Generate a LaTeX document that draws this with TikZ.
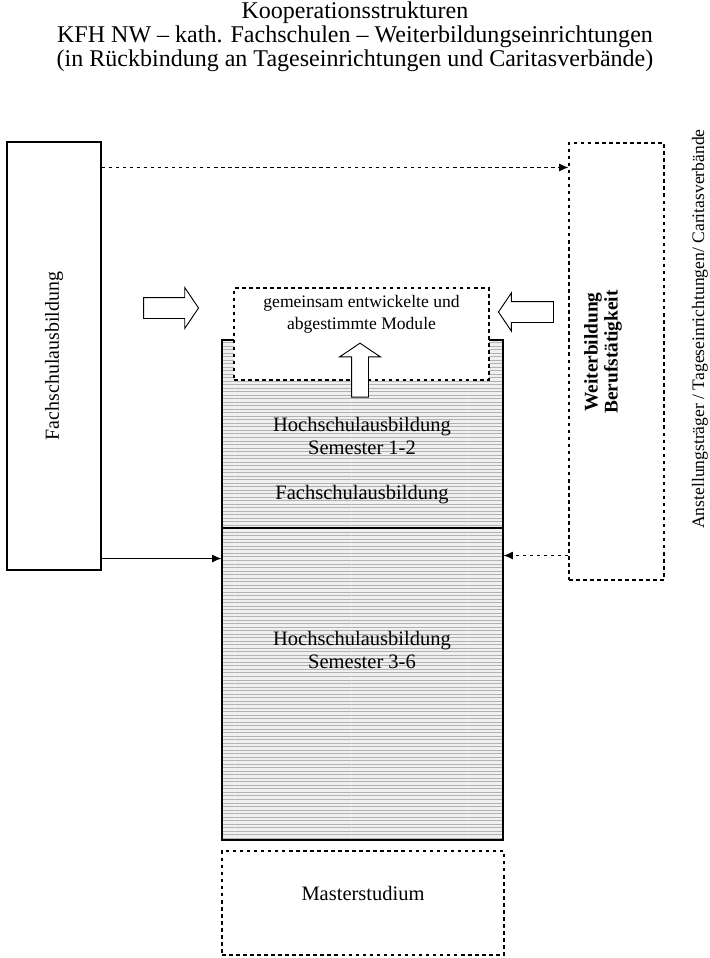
\documentclass[tikz,border=0pt]{standalone}
\usepackage{fontspec}
\setmainfont{Liberation Serif}
\usetikzlibrary{positioning,arrows,arrows.meta,patterns,shapes.arrows}

\begin{document}
\begin{tikzpicture}[x=0.03cm, y=-0.03cm,
  box/.style={draw, line width=0.9pt, inner sep=0pt},
  dbox/.style={box, dashed},
  hsbox/.style={draw, line width=0.9pt, preaction={fill=gray!12}, pattern=horizontal lines, pattern color=gray!60, minimum width=8.43cm},
  hollow/.style={single arrow, draw, line width=0.8pt, fill=white, inner xsep=0pt, inner ysep=0.3cm, single arrow head extend=0.3cm, single arrow tip angle=112, minimum height=1.65cm},
  con/.style={line width=1pt, -{Latex[length=2.8mm, width=2.4mm]}},
  txt/.style={font=\fontsize{17.5}{20}\selectfont, align=center}]
  \useasboundingbox (0,0) rectangle (710,958);

  % title
  \node[font=\fontsize{20.5}{20.5}\selectfont, align=center] (T) at (355,37) {Kooperationsstrukturen\\KFH NW – kath. Fachschulen – Weiterbildungseinrichtungen\\(in Rückbindung an Tageseinrichtungen und Caritasverbände)};

  % Hochschule
  \node[hsbox, minimum height=5.64cm] (HS1) at (362.5,434) {};
  \node[hsbox, minimum height=9.36cm] (HS2) at (362.5,684) {};
  \draw[line width=1.4pt] (HS1.south west) -- (HS1.south east);
  \node[txt] (HS1a) at (362,436) {Hochschulausbildung\\Semester 1-2};
  \node[txt] (HS1b) at (362,495) {Fachschulausbildung};
  \node[txt] (HS2a) at (362,650) {Hochschulausbildung\\Semester 3-6};

  % Module
  \node[dbox, fill=white, minimum width=7.65cm, minimum height=2.76cm] (MOD) at (361.5,334) {};
  \node[font=\fontsize{15}{18.7}\selectfont, align=center, below=0.12cm of MOD.north] (MODt) {gemeinsam entwickelte und\\abgestimmte Module};
  \node[hollow, rotate=90, inner ysep=0.24cm, single arrow head extend=0.36cm, minimum height=1.62cm] (UP) at (360,373) {};

  % Fachschule / Weiterbildung
  \node[box, minimum width=2.82cm, minimum height=12.84cm] (FS) at (54,356) {};
  \node[rotate=90, font=\fontsize{17}{20}\selectfont] (FSt) at (FS) {Fachschulausbildung};
  \node[dbox, minimum width=2.85cm, minimum height=13.11cm] (WB) at (616.5,361.5) {};
  \node[rotate=90, align=center, font=\fontsize{16.5}{17}\selectfont\bfseries] (WBt) at (603,352) {Weiterbildung\\Berufstätigkeit};
  \node[rotate=90, font=\fontsize{15}{18}\selectfont] (AN) at (700,329) {Anstellungsträger / Tageseinrichtungen/ Caritasverbände};

  \node[hollow] (LA) at (167.5,308) {};
  \node[hollow, rotate=180, single arrow head extend=0.26cm] (RA) at (529.5,312) {};

  % Master
  \node[dbox, minimum width=8.46cm, minimum height=3.12cm] (MA) at (363,903) {};
  \node[txt] (MAt) at (363,893) {Masterstudium};

  \draw[con, dashed] ([yshift=-0.78cm]FS.north east) -- ([yshift=-0.78cm]FS.north east -| WB.west);
  \draw[con] ([yshift=0.36cm]FS.south east) -- ([yshift=0.36cm]FS.south east -| HS2.west);
  \draw[con, dashed] ([yshift=0.75cm]WB.south west) -- ([yshift=0.75cm]WB.south west -| HS2.east);
\end{tikzpicture}
\end{document}
